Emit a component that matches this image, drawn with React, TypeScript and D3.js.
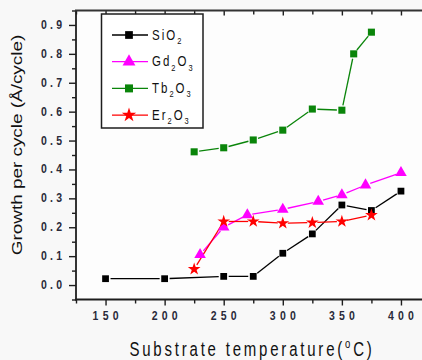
import React, { useEffect, useRef } from 'react';
import * as d3 from 'd3';

// Substrate temperature (°C) and growth per cycle for each oxide
const sio2Temp = [150, 200, 250, 275, 300, 325, 350, 375, 400];
const sio2Gpc = [0.022, 0.022, 0.03, 0.03, 0.11, 0.177, 0.277, 0.258, 0.325];

const gd2o3Temp = [230, 250, 270, 300, 330, 350, 370, 400];
const gd2o3Gpc = [0.105, 0.2, 0.243, 0.262, 0.289, 0.312, 0.346, 0.389];

const tb2o3Temp = [225, 250, 275, 300, 325, 350, 360, 375];
const tb2o3Gpc = [0.461, 0.475, 0.502, 0.536, 0.609, 0.605, 0.8, 0.875];

const er2o3Temp = [225, 250, 275, 300, 325, 350, 375];
const er2o3Gpc = [0.055, 0.22, 0.22, 0.214, 0.216, 0.22, 0.242];

const xTicks = [150, 200, 250, 300, 350, 400];
const xMinorTicks = [125, 175, 225, 275, 325, 375, 425];
const yTicks = [0, 0.1, 0.2, 0.3, 0.4, 0.5, 0.6, 0.7, 0.8, 0.9];
const yMinorTicks = [-0.05, 0.05, 0.15, 0.25, 0.35, 0.45, 0.55, 0.65, 0.75, 0.85, 0.95];

const seriesNames = [
  ['SiO', '2', '', ''],
  ['Gd', '2', 'O', '3'],
  ['Tb', '2', 'O', '3'],
  ['Er', '2', 'O', '3'],
];

const series = [
  { temp: sio2Temp, gpc: sio2Gpc, color: '#000000', symbol: d3.symbolSquare, size: 46 },
  { temp: gd2o3Temp, gpc: gd2o3Gpc, color: '#ff00ff', symbol: d3.symbolTriangle, size: 58 },
  { temp: tb2o3Temp, gpc: tb2o3Gpc, color: '#0a850a', symbol: d3.symbolSquare, size: 50 },
  { temp: er2o3Temp, gpc: er2o3Gpc, color: '#ff0000', symbol: d3.symbolStar, size: 50 },
];

const FONT = '"Liberation Sans", Arial, sans-serif';
const AXIS = '#1e1e1e';

const App = () => {
  const svgRef = useRef<SVGSVGElement>(null);

  useEffect(() => {
    const width = 422;
    const height = 360;
    const svg = d3.select(svgRef.current).attr('width', width).attr('height', height);
    svg.selectAll('*').remove();

    svg.append('rect').attr('width', width).attr('height', height).attr('fill', '#f8f8f8');

    const x = d3.scaleLinear().domain([125, 425]).range([76, 430.5]);
    const y = d3.scaleLinear().domain([-0.05, 0.95]).range([299.5, 10.5]);

    svg
      .append('rect')
      .attr('x', 76)
      .attr('y', 10.5)
      .attr('width', width - 76)
      .attr('height', 289)
      .attr('fill', '#fdfdfd');

    // Series lines, broken around the markers
    const gap = 5;
    series.forEach((s) => {
      const pts = s.temp.map((t, i) => [x(t), y(s.gpc[i])]);
      for (let i = 0; i < pts.length - 1; i++) {
        const [x0, y0] = pts[i];
        const [x1, y1] = pts[i + 1];
        const len = Math.hypot(x1 - x0, y1 - y0);
        if (len <= gap * 2) continue;
        const ux = (x1 - x0) / len;
        const uy = (y1 - y0) / len;
        svg
          .append('line')
          .attr('x1', x0 + ux * gap)
          .attr('y1', y0 + uy * gap)
          .attr('x2', x1 - ux * gap)
          .attr('y2', y1 - uy * gap)
          .attr('stroke', s.color)
          .attr('stroke-width', 1.3);
      }
    });

    // Markers
    series.forEach((s) => {
      svg
        .append('g')
        .selectAll('path')
        .data(s.temp)
        .enter()
        .append('path')
        .attr('transform', (t, i) => `translate(${x(t)},${y(s.gpc[i])})`)
        .attr('d', d3.symbol().type(s.symbol).size(s.size)())
        .attr('fill', s.color);
    });

    // Left axis
    svg.append('g').attr('transform', 'translate(76,0)')
      .call(d3.axisLeft(y).tickValues(yMinorTicks).tickSize(4).tickFormat(() => ''));
    svg.append('g').attr('transform', 'translate(76,0)')
      .call(d3.axisLeft(y).tickValues(yTicks).tickSize(7).tickFormat(() => ''));

    yTicks.forEach((v) => {
      svg
        .append('text')
        .attr('transform', `translate(62,${y(v) + 4}) scale(1,1.3)`)
        .attr('text-anchor', 'end')
        .attr('font-family', FONT)
        .attr('font-weight', 'bold')
        .attr('font-size', 10.5)
        .attr('textLength', 21)
        .attr('lengthAdjust', 'spacing')
        .attr('fill', '#2a2a3a')
        .text(d3.format('.1f')(v));
    });

    // Bottom axis
    svg.append('g').attr('transform', 'translate(0,299.5)')
      .call(d3.axisBottom(x).tickValues(xMinorTicks).tickSize(4).tickFormat(() => ''));
    svg.append('g').attr('transform', 'translate(0,299.5)')
      .call(d3.axisBottom(x).tickValues(xTicks).tickSize(6).tickFormat(() => ''));

    // Top axis, ticks pointing in
    svg.append('g').attr('transform', 'translate(0,10.5)')
      .call(d3.axisTop(x).tickValues(xMinorTicks).tickSize(-4).tickFormat(() => ''));
    svg.append('g').attr('transform', 'translate(0,10.5)')
      .call(d3.axisTop(x).tickValues(xTicks).tickSize(-5).tickFormat(() => ''));

    svg.selectAll('.domain').remove();
    svg.selectAll('.tick line').attr('stroke', AXIS).attr('stroke-width', 1.4);

    xTicks.forEach((v) => {
      svg
        .append('text')
        .attr('transform', `translate(${x(v)},320) scale(1,1.3)`)
        .attr('text-anchor', 'middle')
        .attr('font-family', FONT)
        .attr('font-weight', 'bold')
        .attr('font-size', 10.5)
        .attr('textLength', 26)
        .attr('lengthAdjust', 'spacing')
        .attr('fill', '#2a2a3a')
        .text(v);
    });

    // Frame lines
    svg.append('line').attr('x1', 76).attr('x2', 76).attr('y1', 10).attr('y2', 300.5)
      .attr('stroke', AXIS).attr('stroke-width', 1.8);
    svg.append('line').attr('x1', 75).attr('x2', width).attr('y1', 299.5).attr('y2', 299.5)
      .attr('stroke', AXIS).attr('stroke-width', 1.8);
    svg.append('line').attr('x1', 75).attr('x2', width).attr('y1', 10.5).attr('y2', 10.5)
      .attr('stroke', '#333').attr('stroke-width', 2);

    // Legend
    const lg = svg.append('g');
    lg.append('rect')
      .attr('x', 101.5)
      .attr('y', 14)
      .attr('width', 101.5)
      .attr('height', 114)
      .attr('fill', '#ffffff')
      .attr('stroke', AXIS)
      .attr('stroke-width', 1.5);
    series.forEach((s, i) => {
      const ry = 35 + i * 26.7;
      lg.append('line').attr('x1', 112).attr('x2', 148).attr('y1', ry).attr('y2', ry)
        .attr('stroke', s.color).attr('stroke-width', 1.3);
      lg.append('path')
        .attr('transform', `translate(129,${ry})`)
        .attr('d', d3.symbol().type(s.symbol).size(s.size + 14)())
        .attr('fill', s.color);
      const [a, sa, b, sb] = seriesNames[i];
      const t = lg
        .append('text')
        .attr('transform', `translate(152,${ry + 4.5}) scale(1,1.3)`)
        .attr('font-family', FONT)
        .attr('font-size', 11.5)
        .attr('letter-spacing', 2)
        .attr('fill', '#111');
      t.append('tspan').text(a);
      t.append('tspan').attr('font-size', 7.5).attr('dy', 3.5).text(sa);
      if (b) {
        t.append('tspan').attr('dy', -3.5).text(b);
        t.append('tspan').attr('font-size', 7.5).attr('dy', 3.5).text(sb);
      }
    });

    // Axis titles
    svg
      .append('text')
      .attr('transform', 'translate(22,145) rotate(-90) scale(1.35,1)')
      .attr('text-anchor', 'middle')
      .attr('font-family', FONT)
      .attr('font-size', 14)
      .attr('fill', '#111')
      .text('Growth per cycle (Å/cycle)');

    const xt = svg
      .append('text')
      .attr('transform', 'translate(252,356) scale(1,1.3)')
      .attr('text-anchor', 'middle')
      .attr('font-family', FONT)
      .attr('font-size', 15)
      .attr('letter-spacing', 2.8)
      .attr('fill', '#111');
    xt.append('tspan').text('Substrate temperature(');
    xt.append('tspan').attr('font-size', 9.5).attr('dy', -6).text('o');
    xt.append('tspan').attr('dy', 6).text('C)');
  }, []);

  return (
    <svg
      ref={svgRef}
      style={{ position: 'absolute', left: 0, top: 0, display: 'block' }}
    ></svg>
  );
};

export default App;
